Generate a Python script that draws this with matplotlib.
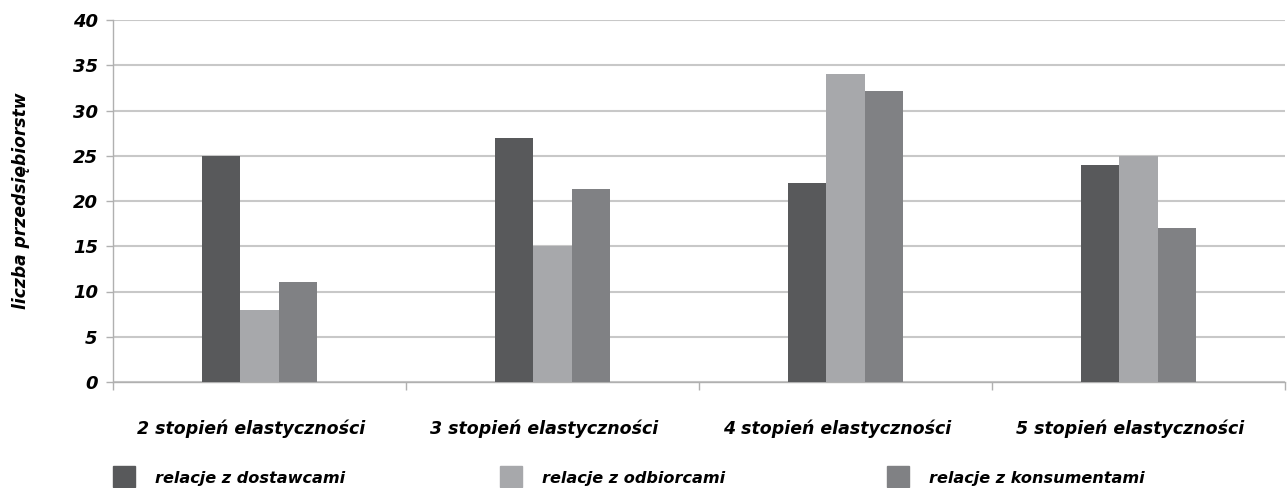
import numpy as np
import matplotlib
matplotlib.use('Agg')
import matplotlib.pyplot as plt
from matplotlib.patches import Rectangle

# stopnie elastyczności i liczba przedsiębiorstw w każdej grupie relacji
kategorie = ['2 stopień elastyczności', '3 stopień elastyczności',
             '4 stopień elastyczności', '5 stopień elastyczności']
dostawcy = [25, 27, 22, 24]
odbiorcy = [8, 15, 34, 25]
konsumenci = [11, 21.3, 32.2, 17]

serie = ['relacje z dostawcami', 'relacje z odbiorcami', 'relacje z konsumentami']
kolory = ['#58595b', '#a7a8ab', '#808184']

plt.rcParams['font.family'] = ['DejaVu Sans']

W, H = 1287, 488
fig = plt.figure(figsize=(W / 100, H / 100), dpi=100)
ax = fig.add_axes([113 / W, 1 - 382 / H, 1172 / W, 362 / H])

x = np.arange(len(kategorie))
w = 0.131
for i, (dane, kol) in enumerate(zip([dostawcy, odbiorcy, konsumenci], kolory)):
    ax.bar(x + (i - 1) * w, dane, width=w, color=kol, zorder=3)

ax.set_xlim(-0.5, len(kategorie) - 0.5)
ax.set_ylim(0, 40)
ax.set_yticks(range(0, 41, 5))
ax.yaxis.grid(True, color='#c8c8c8', linewidth=1.5, zorder=0)

ax.set_xticks(x - 0.03)
ax.set_xticklabels(kategorie, fontsize=12.5, fontweight='bold', style='italic')
ax.set_xticks(np.arange(-0.5, len(kategorie)), minor=True)
ax.tick_params(axis='x', which='major', length=0, pad=27)
ax.tick_params(axis='x', which='minor', length=6, color='#b0b0b0', width=1)
ax.tick_params(axis='y', length=5, color='#b0b0b0', width=1, pad=6)
for lab in ax.get_yticklabels():
    lab.set_fontsize(13)
    lab.set_fontweight('bold')
    lab.set_style('italic')

for s in ['top', 'right']:
    ax.spines[s].set_visible(False)
for s in ['left', 'bottom']:
    ax.spines[s].set_color('#b0b0b0')
    ax.spines[s].set_linewidth(1)

fig.text(21 / W, 1 - 201 / H, 'liczba przedsiębiorstw', rotation=90,
         ha='center', va='center', fontsize=12.3, fontweight='bold', style='italic')

# legenda: trzy kolumny o równej szerokości
for i, (nazwa, kol) in enumerate(zip(serie, kolory)):
    x0 = 113 + i * 387
    fig.add_artist(Rectangle((x0 / W, 1 - 487 / H), 22 / W, 21 / H,
                             color=kol, transform=fig.transFigure))
    fig.text((x0 + 42) / W, 1 - 478 / H, nazwa, ha='left', va='center',
             fontsize=11.6, fontweight='bold', style='italic')

fig.savefig('out.png', dpi=100)
